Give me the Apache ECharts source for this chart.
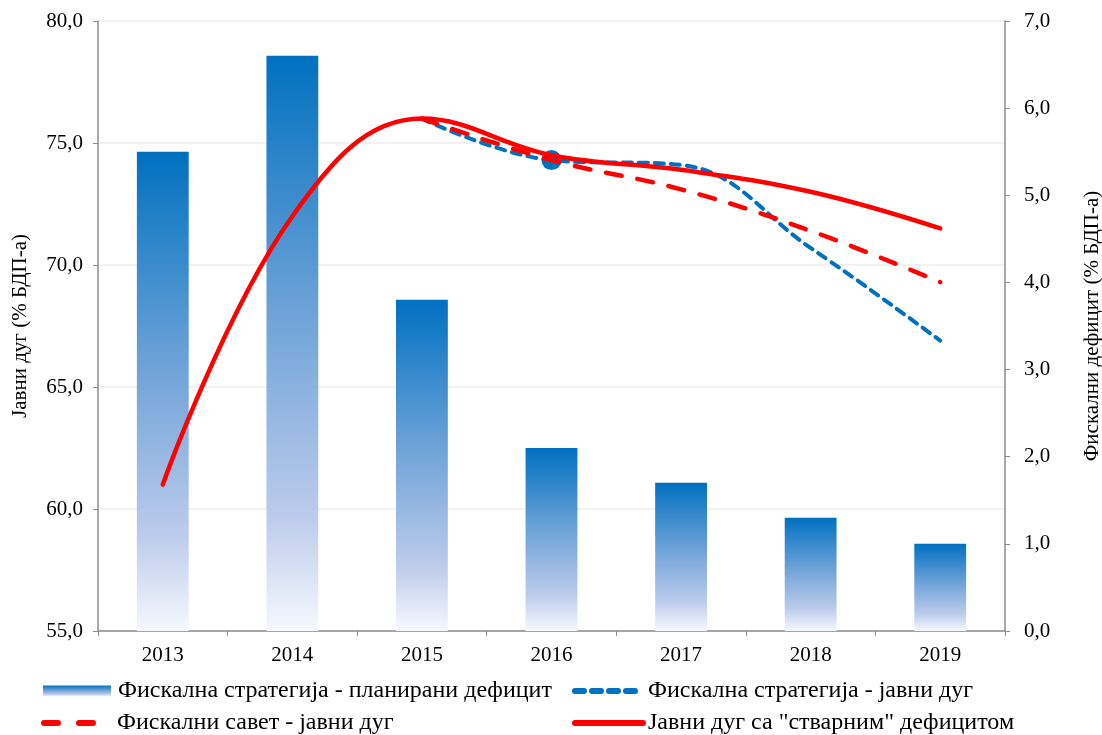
<!DOCTYPE html>
<html>
<head>
<meta charset="utf-8">
<script src="https://cdn.jsdelivr.net/npm/echarts@6/dist/echarts.min.js"></script>
<style>
  html, body { margin: 0; padding: 0; background: #fff; }
  #chart { width: 1102px; height: 735px; }
</style>
</head>
<body>
<div id="chart"></div>
<script>
// године
var years = ['2013', '2014', '2015', '2016', '2017', '2018', '2019'];
// фискални дефицит (% БДП-а), десна оса
var plannedDeficit = [5.5, 6.6, 3.8, 2.1, 1.7, 1.3, 1.0];
// јавни дуг (% БДП-а), лева оса
var strategyDebt = ['-', '-', 76.0, 74.3, 74.1, 70.7, 66.9];
var councilDebt = ['-', '-', 76.0, 74.3, 73.1, 71.4, 69.3];
var actualDebt = [61.0, 72.0, 76.0, 74.5, 73.9, 73.0, 71.5];

var names = [
  'Фискална стратегија - планирани дефицит',
  'Фискална стратегија - јавни дуг',
  'Фискални савет - јавни дуг',
  'Јавни дуг са "стварним" дефицитом'
];

var font = 'Liberation Serif';
var axisGray = '#8c8c8c';

function comma(v) {
  return v.toFixed(1).replace('.', ',');
}

var barGradient = new echarts.graphic.LinearGradient(0, 0, 0, 1, [
  { offset: 0, color: '#0070C0' },
  { offset: 0.45, color: '#6FA3D8' },
  { offset: 0.8, color: '#BCCBEB' },
  { offset: 1, color: '#F6F8FD' }
]);

// једна легенда по ставци, да би распоред био 2 x 2
function legendItem(name, left, top, lineStyle, pad) {
  var l = {
    left: left, top: top,
    itemWidth: 68, itemHeight: 11, itemGap: 0,
    textStyle: { fontFamily: font, fontSize: 24, color: '#000', padding: [0, 0, 0, pad] },
    data: [name]
  };
  if (lineStyle) {
    l.lineStyle = lineStyle;
    l.itemStyle = { opacity: 0 };
  } else {
    l.icon = 'rect';
  }
  return l;
}

var chart = echarts.init(document.getElementById('chart'));

chart.setOption({
  animation: false,
  textStyle: { fontFamily: font },
  grid: { left: 98, right: 97, top: 21, bottom: 104, outerBoundsMode: 'none', containLabel: false },
  legend: [
    legendItem(names[0], 38, 674, null, 2),
    legendItem(names[2], 36, 706, { color: '#FF0000', width: 6, type: [14, 21, 14, 100], cap: 'round' }, 0),
    legendItem(names[1], 567, 674, { color: '#0070C0', width: 6, type: [9, 8], cap: 'round' }, 0),
    legendItem(names[3], 567, 706, { color: '#FF0000', width: 6, cap: 'round' }, 0)
  ],
  xAxis: {
    type: 'category',
    data: years,
    axisLine: { lineStyle: { color: axisGray, width: 1.5 } },
    axisTick: { show: true, length: 5, lineStyle: { color: axisGray } },
    axisLabel: { fontFamily: font, fontSize: 21, color: '#000', margin: 14 }
  },
  yAxis: [
    {
      type: 'value', min: 55, max: 80, interval: 5,
      name: 'Јавни дуг (% БДП-а)', nameLocation: 'middle', nameGap: 67,
      nameTextStyle: { fontFamily: font, fontSize: 21, color: '#000' },
      axisLine: { show: true, lineStyle: { color: axisGray, width: 1.5 } },
      axisTick: { show: true, length: 5, lineStyle: { color: axisGray } },
      axisLabel: { fontFamily: font, fontSize: 21, color: '#000', margin: 15, formatter: comma },
      splitLine: { lineStyle: { color: '#eeeeee', width: 1.5 } }
    },
    {
      type: 'value', min: 0, max: 7, interval: 1,
      name: 'Фискални дефицит (% БДП-а)', nameLocation: 'middle', nameGap: 77,
      nameRotate: 90,
      nameTextStyle: { fontFamily: font, fontSize: 21, color: '#000' },
      axisLine: { show: true, lineStyle: { color: axisGray, width: 1.5 } },
      axisTick: { show: true, length: 5, lineStyle: { color: axisGray } },
      axisLabel: { fontFamily: font, fontSize: 21, color: '#000', margin: 19, formatter: comma },
      splitLine: { show: false }
    }
  ],
  series: [
    {
      name: names[0], type: 'bar', yAxisIndex: 1,
      barWidth: '40%',
      itemStyle: { color: barGradient },
      data: plannedDeficit
    },
    {
      name: names[1], type: 'line', yAxisIndex: 0,
      smooth: 0.4, symbol: 'none',
      lineStyle: { color: '#0070C0', width: 4, type: [9, 7], cap: 'round' },
      itemStyle: { color: '#0070C0' },
      data: strategyDebt.map(function (v, i) {
        return i === 3 ? { value: v, symbol: 'circle', symbolSize: 20 } : v;
      }),
      z: 3
    },
    {
      name: names[2], type: 'line', yAxisIndex: 0,
      smooth: 0.4, symbol: 'none',
      lineStyle: { color: '#FF0000', width: 4.5, type: [16, 16], cap: 'round' },
      itemStyle: { color: '#FF0000' },
      data: councilDebt,
      z: 4
    },
    {
      name: names[3], type: 'line', yAxisIndex: 0,
      smooth: 0.4, symbol: 'none',
      lineStyle: { color: '#FF0000', width: 4.5, cap: 'round' },
      itemStyle: { color: '#FF0000' },
      data: actualDebt,
      z: 5
    }
  ]
});
</script>
</body>
</html>
